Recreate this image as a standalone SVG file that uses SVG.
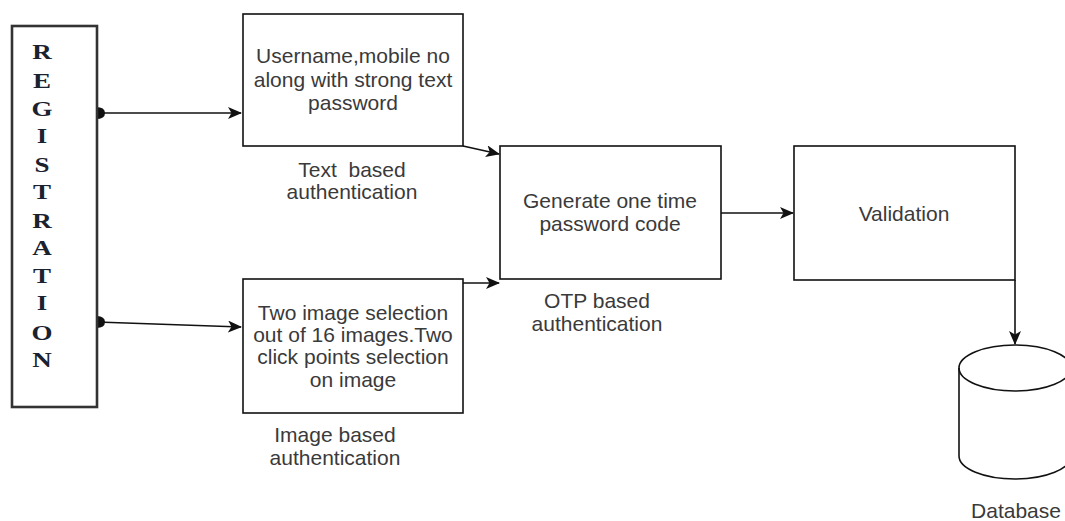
<svg xmlns="http://www.w3.org/2000/svg" width="1065" height="521" viewBox="0 0 1065 521">
  <style>
    .box { fill: #ffffff; stroke: #111111; stroke-width: 1.6; }
    .reg { fill: #ffffff; stroke: #333333; stroke-width: 2.6; }
    .txt { font-family: "Liberation Sans", Arial, sans-serif; font-size: 21px; fill: #3a3a3a; text-anchor: middle; }
    .regtxt { font-family: "Liberation Serif", "Times New Roman", serif; font-size: 20px; font-weight: bold; fill: #1a2230; text-anchor: middle; }
    .edge { fill: none; stroke: #111111; stroke-width: 1.6; }
  </style>
  <defs>
    <marker id="arrow" viewBox="0 0 14 12" refX="13" refY="6" markerWidth="14" markerHeight="12" markerUnits="userSpaceOnUse" orient="auto">
      <path d="M0,0 L14,6 L0,12 L3.5,6 z" fill="#111111"/>
    </marker>
    <marker id="dot" viewBox="0 0 10 12" refX="1" refY="6" markerWidth="10" markerHeight="12" markerUnits="userSpaceOnUse" orient="auto">
      <path d="M0,0 Q9,0 9,6 Q9,12 0,12 z" fill="#111111"/>
    </marker>
  </defs>

  <rect width="1065" height="521" fill="#ffffff"/>

  <!-- connectors -->
  <g id="connectors">
    <line class="edge" x1="97" y1="113" x2="241" y2="113" marker-start="url(#dot)" marker-end="url(#arrow)"/>
    <line class="edge" x1="97" y1="322" x2="241" y2="327" marker-start="url(#dot)" marker-end="url(#arrow)"/>
    <line class="edge" x1="463" y1="146" x2="499" y2="154" marker-end="url(#arrow)"/>
    <line class="edge" x1="463" y1="283" x2="499" y2="283" marker-end="url(#arrow)"/>
    <line class="edge" x1="721" y1="213" x2="793" y2="213" marker-end="url(#arrow)"/>
    <line class="edge" x1="1015" y1="280" x2="1015" y2="344" marker-end="url(#arrow)"/>
  </g>

  <!-- registration column -->
  <g id="registration">
    <rect class="reg" x="12" y="26" width="85" height="381"/>
    <g transform="translate(42,0) scale(1.35,1) translate(-42,0)">
      <text class="regtxt" x="42" y="59">R</text>
      <text class="regtxt" x="42" y="88">E</text>
      <text class="regtxt" x="42" y="116">G</text>
      <text class="regtxt" x="42" y="143">I</text>
      <text class="regtxt" x="42" y="172">S</text>
      <text class="regtxt" x="42" y="199">T</text>
      <text class="regtxt" x="42" y="228">R</text>
      <text class="regtxt" x="42" y="255">A</text>
      <text class="regtxt" x="42" y="283">T</text>
      <text class="regtxt" x="42" y="310">I</text>
      <text class="regtxt" x="42" y="340">O</text>
      <text class="regtxt" x="42" y="367">N</text>
    </g>
  </g>

  <!-- text based authentication -->
  <g id="text-auth">
    <rect class="box" x="243" y="14" width="220" height="132"/>
    <text class="txt" x="353" y="63">Username,mobile no</text>
    <text class="txt" x="353" y="87">along with strong text</text>
    <text class="txt" x="353" y="110">password</text>
    <text class="txt" x="352" y="177" xml:space="preserve">Text  based</text>
    <text class="txt" x="352" y="199">authentication</text>
  </g>

  <!-- image based authentication -->
  <g id="image-auth">
    <rect class="box" x="243" y="279" width="220" height="134"/>
    <text class="txt" x="353" y="320">Two image selection</text>
    <text class="txt" x="353" y="342">out of 16 images.Two</text>
    <text class="txt" x="353" y="364">click points selection</text>
    <text class="txt" x="353" y="387">on image</text>
    <text class="txt" x="335" y="442">Image based</text>
    <text class="txt" x="335" y="465">authentication</text>
  </g>

  <!-- OTP generation -->
  <g id="otp">
    <rect class="box" x="500" y="146" width="221" height="133"/>
    <text class="txt" x="610" y="208">Generate one time</text>
    <text class="txt" x="610" y="231">password code</text>
    <text class="txt" x="597" y="308">OTP based</text>
    <text class="txt" x="597" y="331">authentication</text>
  </g>

  <!-- validation -->
  <g id="validation">
    <rect class="box" x="794" y="146" width="221" height="134"/>
    <text class="txt" x="904" y="221">Validation</text>
  </g>

  <!-- database cylinder -->
  <g id="database">
    <path class="box" d="M959,368 A56,23 0 0 1 1071,368 L1071,456 A56,23 0 0 1 959,456 Z"/>
    <path class="edge" d="M959,368 A56,23 0 0 0 1071,368"/>
    <text class="txt" x="1016" y="518">Database</text>
  </g>
</svg>
